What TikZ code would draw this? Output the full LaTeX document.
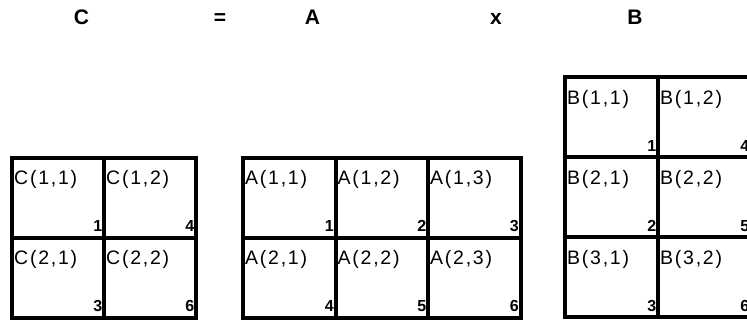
\documentclass[tikz,border=0pt]{standalone}
\usepackage{fontspec}
\setmainfont{Liberation Sans}
\newfontfamily\celllblfont[LetterSpace=9]{Liberation Sans}
\usetikzlibrary{calc}
\begin{document}
\begin{tikzpicture}[x=1pt,y=-1pt,
  cell/.style={draw=black, line width=4pt, rectangle, inner sep=0pt, outer sep=0pt, minimum height=80pt},
  ttl/.style={font=\fontsize{21}{21}\selectfont\bfseries, inner sep=0pt, anchor=base},
  lbl/.style={font=\fontsize{19.5}{19.5}\selectfont\celllblfont, inner sep=0pt, anchor=base west},
  num/.style={font=\fontsize{16}{16}\selectfont\bfseries, inner sep=0pt, anchor=base east}]
\clip (0,0) rectangle (747,320);
% titles
\node[ttl] (tC) at (81.5,25) {C};
\node[ttl] (teq) at (220,25) {=};
\node[ttl] (tA) at (312.5,25) {A};
\node[ttl] (tx) at (496,25) {x};
\node[ttl] (tB) at (635,25) {B};
% C matrix
\foreach \i/\j/\n in {1/1/1,1/2/4,2/1/3,2/2/6} {
  \node[cell, minimum width=92pt] (C\i\j) at ({12+92*(\j-0.5)},{158+80*(\i-0.5)}) {};
  \node[lbl] (CL\i\j) at ($(C\i\j.north west)+(2,27)$) {C(\i,\j)};
  \node[num] (CN\i\j) at ($(C\i\j.south east)+(-1.5,-6)$) {\n};
}
% A matrix
\foreach \i/\j/\n in {1/1/1,1/2/2,1/3/3,2/1/4,2/2/5,2/3/6} {
  \node[cell, minimum width=92.5pt] (A\i\j) at ({243+92.5*(\j-0.5)},{158+80*(\i-0.5)}) {};
  \node[lbl] (AL\i\j) at ($(A\i\j.north west)+(2,27)$) {A(\i,\j)};
  \node[num] (AN\i\j) at ($(A\i\j.south east)+(-1.5,-6)$) {\n};
}
% B matrix
\foreach \i/\j/\n in {1/1/1,2/1/2,3/1/3,1/2/4,2/2/5,3/2/6} {
  \node[cell, minimum width=93pt] (B\i\j) at ({565+93*(\j-0.5)},{77.5+80*(\i-0.5)}) {};
  \node[lbl] (BL\i\j) at ($(B\i\j.north west)+(2,27)$) {B(\i,\j)};
  \node[num] (BN\i\j) at ($(B\i\j.south east)+(-1.5,-6)$) {\n};
}
\end{tikzpicture}
\end{document}
